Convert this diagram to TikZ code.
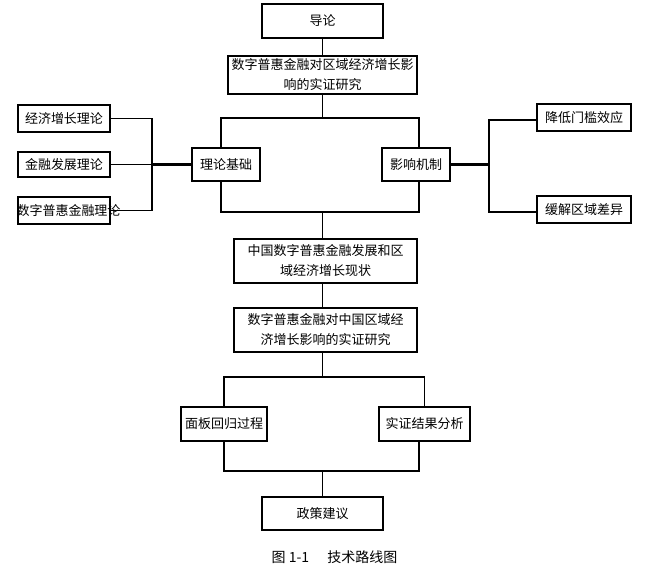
\documentclass[tikz,border=0pt]{standalone}
\usepackage{fontspec}
\newfontfamily\cjk{Noto Sans CJK SC}
\tikzset{boite/.style={draw, line width=1.3pt, font=\cjk\fontsize{13}{20}\selectfont, inner sep=0pt, align=center},
  lien/.style={line width=1.1pt},
  lienfort/.style={line width=2.4pt}}

\begin{document}
\begin{tikzpicture}[x=1pt,y=-1pt]
\useasboundingbox (0,0) rectangle (654,567);

% la colonne centrale
\node[boite, minimum width=121pt, minimum height=34pt] (daolun) at (322.5,21) {导论};
\node[boite, minimum width=189pt, minimum height=38pt] (yanjiu) at (322.5,75) {数字普惠金融对区域经济增长影\\响的实证研究};
\node[boite, minimum width=68pt, minimum height=33pt] (lilun) at (226,164.5) {理论基础};
\node[boite, minimum width=68pt, minimum height=33pt] (jizhi) at (416,164.5) {影响机制};
\node[boite, minimum width=183pt, minimum height=44pt] (xianzhuang) at (325.5,261) {中国数字普惠金融发展和区\\域经济增长现状};
\node[boite, minimum width=183pt, minimum height=44pt] (shizheng) at (325.5,330) {数字普惠金融对中国区域经\\济增长影响的实证研究};
\node[boite, minimum width=86pt, minimum height=34pt] (mianban) at (224,424) {面板回归过程};
\node[boite, minimum width=91pt, minimum height=34pt] (jieguo) at (424.5,424) {实证结果分析};
\node[boite, minimum width=121pt, minimum height=33pt] (zhengce) at (322.5,513.5) {政策建议};

% les theories a gauche, les effets a droite
\node[boite, minimum width=92pt, minimum height=27pt] (jjzz) at (64,118.5) {经济增长理论};
\node[boite, minimum width=92pt, minimum height=25pt] (jrfz) at (64,164.5) {金融发展理论};
\node[boite, minimum width=92pt, minimum height=27pt] (szph) at (64,210.5) {\makebox[0pt]{\hspace{9pt}数字普惠金融理论}};
\node[boite, minimum width=94pt, minimum height=27pt] (jdmk) at (584,117.5) {降低门槛效应};
\node[boite, minimum width=94pt, minimum height=27pt] (hjqy) at (584,209.5) {缓解区域差异};

\node[font=\cjk\fontsize{14}{14}\selectfont] (titre) at (334.5,557) {图 1-1\hspace{1.3em}技术路线图};

% les points de branchement
\coordinate (barre1) at (322.5,118);
\coordinate (barre2) at (322.5,212);
\coordinate (barre3) at (322.5,377);
\coordinate (barre4) at (322.5,471);
\coordinate (gauche) at (152,164.5);
\coordinate (droite) at (489,164.5);

\draw[lien] (daolun) -- (yanjiu);
\draw[lien] (yanjiu) -- (barre1);
\draw[lien] ([xshift=-5pt]lilun.north) |- (barre1) -| ([xshift=3pt]jizhi.north);
\draw[lien] ([xshift=-5pt]lilun.south) |- (barre2) -| ([xshift=3pt]jizhi.south);
\draw[lien] (barre2) -- (barre2 |- xianzhuang.north);
\draw[lien] (xianzhuang.south -| barre2) -- (shizheng.north -| barre2);
\draw[lien] (shizheng.south -| barre3) -- (barre3);
\draw[lien] (mianban.north) |- (barre3) -| (jieguo.north);
\draw[lien] (mianban.south) |- (barre4) -| ([xshift=-5.5pt]jieguo.south);
\draw[lien] (barre4) -- (barre4 |- zhengce.north);

\draw[lien] (jjzz.east) -| (gauche);
\draw[lien] (szph.east) -| (gauche);
\draw[lien] (jrfz.east) -- (gauche);
\draw[lienfort] (gauche) -- (lilun.west);

\draw[lienfort] (jizhi.east) -- (droite);
\draw[lien, line width=1.6pt] ([yshift=-2.5pt]jdmk.west) -| (droite);
\draw[lien, line width=1.6pt] ([yshift=-2.5pt]hjqy.west) -| (droite);
\end{tikzpicture}
\end{document}
